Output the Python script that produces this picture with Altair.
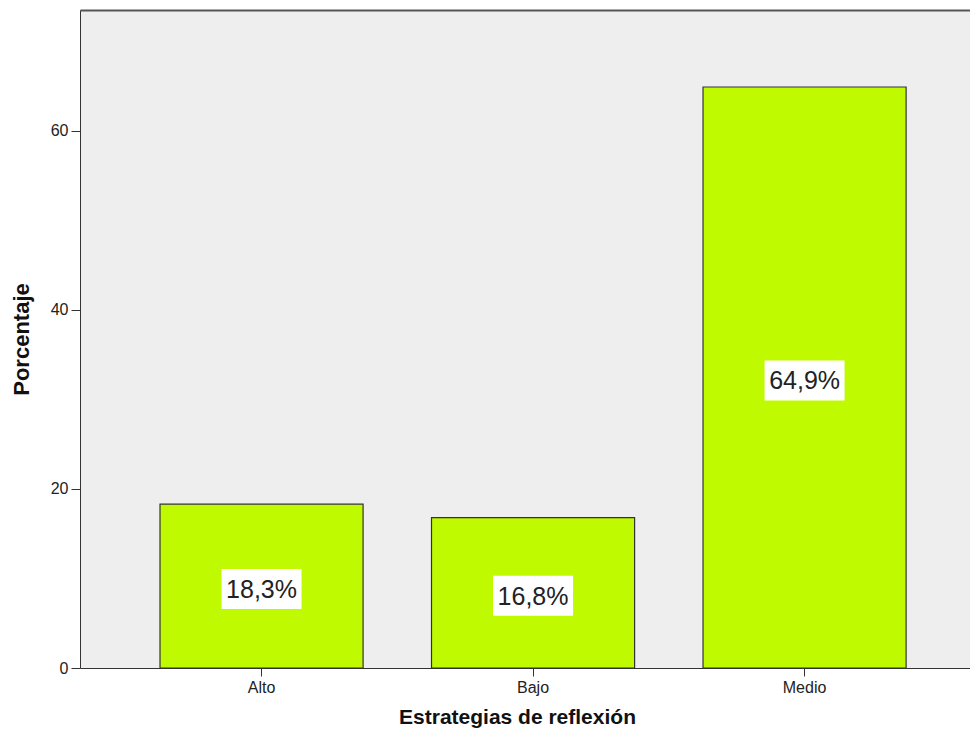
import altair as alt
import pandas as pd

categories = ["Alto", "Bajo", "Medio"]
percentages = [18.3, 16.8, 64.9]
labels = ["18,3%", "16,8%", "64,9%"]
y_ticks = [0, 20, 40, 60]

df = pd.DataFrame({"cat": categories, "pct": percentages, "label": labels})
df["mid"] = df["pct"] / 2

FONT = "Liberation Sans"

x_scale = alt.Scale(paddingInner=0.252, paddingOuter=0.265, align=0.556)

x_enc = alt.X(
    "cat:N",
    sort=categories,
    title="Estrategias de reflexión",
    scale=x_scale,
    axis=alt.Axis(
        labelAngle=0,
        labelFont=FONT,
        labelFontSize=16,
        labelColor="#222222",
        labelPadding=3,
        tickSize=8,
        tickColor="#333333",
        domainColor="#333333",
        titleFont=FONT,
        titleFontSize=21,
        titleFontWeight="bold",
        titleColor="#111111",
        titleX=437,
        titleY=49,
        titleAlign="center",
        titleBaseline="middle",
        grid=False,
    ),
)

y_scale = alt.Scale(domain=[0, 73.5], nice=False, zero=True)

bars = alt.Chart(df).mark_bar(
    fill="#c0fa00", stroke="#333333", strokeWidth=1.2
).encode(
    x=x_enc,
    y=alt.Y(
        "pct:Q",
        scale=y_scale,
        title="Porcentaje",
        axis=alt.Axis(
            values=y_ticks,
            labelFont=FONT,
            labelFontSize=16,
            labelColor="#222222",
            labelPadding=3,
            tickSize=9,
            tickColor="#333333",
            domainColor="#333333",
            grid=False,
            titleFont=FONT,
            titleFontSize=22,
            titleFontWeight="bold",
            titleColor="#111111",
            titleX=-59,
            titleY=329,
            titleAlign="center",
            titleBaseline="middle",
        ),
    ),
)

# invisible layer whose top-oriented axis draws the upper frame line
frame_top = alt.Chart(df).mark_bar(opacity=0).encode(
    x=alt.X(
        "cat:N",
        sort=categories,
        scale=x_scale,
        axis=alt.Axis(
            orient="top", labels=False, ticks=False, title=None,
            domainColor="#555555", domainWidth=2, grid=False,
        ),
    ),
)

boxes = alt.Chart(df).mark_point(
    shape="M-1,-0.5H1V0.5H-1Z",
    filled=True,
    fill="white",
    opacity=1,
    strokeWidth=0,
    size=80 * 80,
    yOffset=3,
).encode(
    x=alt.X("cat:N", sort=categories, axis=None),
    y=alt.Y("mid:Q", scale=y_scale),
)

texts = alt.Chart(df).mark_text(
    font=FONT, fontSize=25, color="#222222", baseline="middle", dy=4
).encode(
    x=alt.X("cat:N", sort=categories, axis=None),
    y=alt.Y("mid:Q", scale=y_scale),
    text="label:N",
)

chart = alt.layer(bars, frame_top, boxes, texts).resolve_axis(
    x="independent"
).properties(
    width=890,
    height=658,
    autosize=alt.AutoSizeParams(type="none"),
    padding={"left": 72, "top": 2, "right": 0, "bottom": 64},
    background="white",
).configure_view(
    strokeWidth=0, fill="#eeeeee"
)

chart.save("out.html", embed_options={"renderer": "svg", "actions": False})
